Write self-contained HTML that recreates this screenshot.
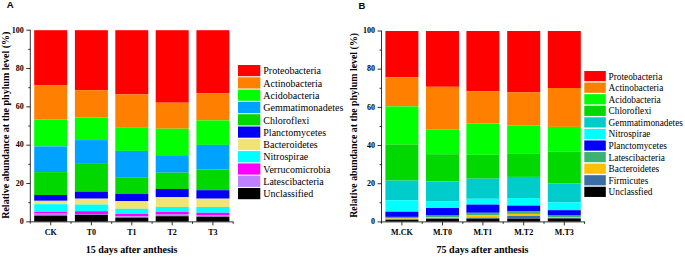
<!DOCTYPE html>
<html><head><meta charset="utf-8"><style>
html,body{margin:0;padding:0;background:#fff;}
svg{display:block;}
.tk{font-family:"Liberation Serif",serif;font-weight:700;font-size:8px;fill:#000;}
.tt{font-family:"Liberation Serif",serif;font-weight:700;font-size:10px;fill:#000;}
.yl{font-family:"Liberation Serif",serif;font-weight:700;font-size:10px;fill:#000;}
.lg{font-family:"Liberation Serif",serif;font-weight:400;font-size:10px;fill:#000;}
.pl{font-family:"Liberation Sans",sans-serif;font-weight:700;font-size:9.5px;fill:#000;}
</style></head><body>
<svg width="685" height="257" viewBox="0 0 685 257">
<rect width="685" height="257" fill="#fff"/>
<rect x="34.2" y="30.2" width="33" height="54.9" fill="#ff0000"/>
<rect x="34.2" y="85.1" width="33" height="34.3" fill="#ff8000"/>
<rect x="34.2" y="119.4" width="33" height="27" fill="#00ff00"/>
<rect x="34.2" y="146.4" width="33" height="25.7" fill="#00a2ff"/>
<rect x="34.2" y="172.1" width="33" height="22.9" fill="#00d800"/>
<rect x="34.2" y="195" width="33" height="5.8" fill="#0000f2"/>
<rect x="34.2" y="200.8" width="33" height="3.4" fill="#f0e474"/>
<rect x="34.2" y="204.2" width="33" height="7.8" fill="#00ffff"/>
<rect x="34.2" y="212" width="33" height="1.6" fill="#ff00ff"/>
<rect x="34.2" y="213.6" width="33" height="2" fill="#bf80ff"/>
<rect x="34.2" y="215.6" width="33" height="5.9" fill="#000000"/>
<rect x="74.9" y="30.2" width="33" height="59.95" fill="#ff0000"/>
<rect x="74.9" y="90.15" width="33" height="27.45" fill="#ff8000"/>
<rect x="74.9" y="117.6" width="33" height="22.5" fill="#00ff00"/>
<rect x="74.9" y="140.1" width="33" height="23" fill="#00a2ff"/>
<rect x="74.9" y="163.1" width="33" height="28.5" fill="#00d800"/>
<rect x="74.9" y="191.6" width="33" height="7.1" fill="#0000f2"/>
<rect x="74.9" y="198.7" width="33" height="5.9" fill="#f0e474"/>
<rect x="74.9" y="204.6" width="33" height="6.6" fill="#00ffff"/>
<rect x="74.9" y="211.2" width="33" height="2.8" fill="#ff00ff"/>
<rect x="74.9" y="214" width="33" height="0.8" fill="#bf80ff"/>
<rect x="74.9" y="214.8" width="33" height="6.7" fill="#000000"/>
<rect x="115.3" y="30.2" width="33" height="64.2" fill="#ff0000"/>
<rect x="115.3" y="94.4" width="33" height="32.8" fill="#ff8000"/>
<rect x="115.3" y="127.2" width="33" height="23.7" fill="#00ff00"/>
<rect x="115.3" y="150.9" width="33" height="26.3" fill="#00a2ff"/>
<rect x="115.3" y="177.2" width="33" height="16.5" fill="#00d800"/>
<rect x="115.3" y="193.7" width="33" height="7.4" fill="#0000f2"/>
<rect x="115.3" y="201.1" width="33" height="7.7" fill="#f0e474"/>
<rect x="115.3" y="208.8" width="33" height="5.1" fill="#00ffff"/>
<rect x="115.3" y="213.9" width="33" height="2.3" fill="#ff00ff"/>
<rect x="115.3" y="216.2" width="33" height="1.4" fill="#bf80ff"/>
<rect x="115.3" y="217.6" width="33" height="3.9" fill="#000000"/>
<rect x="155.7" y="30.2" width="33" height="72.5" fill="#ff0000"/>
<rect x="155.7" y="102.7" width="33" height="26" fill="#ff8000"/>
<rect x="155.7" y="128.7" width="33" height="26.5" fill="#00ff00"/>
<rect x="155.7" y="155.2" width="33" height="17.5" fill="#00a2ff"/>
<rect x="155.7" y="172.7" width="33" height="16.3" fill="#00d800"/>
<rect x="155.7" y="189" width="33" height="8.2" fill="#0000f2"/>
<rect x="155.7" y="197.2" width="33" height="9.8" fill="#f0e474"/>
<rect x="155.7" y="207" width="33" height="5" fill="#00ffff"/>
<rect x="155.7" y="212" width="33" height="2" fill="#ff00ff"/>
<rect x="155.7" y="214" width="33" height="2.2" fill="#bf80ff"/>
<rect x="155.7" y="216.2" width="33" height="5.3" fill="#000000"/>
<rect x="196.4" y="30.2" width="33" height="63.2" fill="#ff0000"/>
<rect x="196.4" y="93.4" width="33" height="27" fill="#ff8000"/>
<rect x="196.4" y="120.4" width="33" height="24.5" fill="#00ff00"/>
<rect x="196.4" y="144.9" width="33" height="24.5" fill="#00a2ff"/>
<rect x="196.4" y="169.4" width="33" height="20.8" fill="#00d800"/>
<rect x="196.4" y="190.2" width="33" height="8.5" fill="#0000f2"/>
<rect x="196.4" y="198.7" width="33" height="8.3" fill="#f0e474"/>
<rect x="196.4" y="207" width="33" height="5.8" fill="#00ffff"/>
<rect x="196.4" y="212.8" width="33" height="2.3" fill="#ff00ff"/>
<rect x="196.4" y="215.1" width="33" height="1.6" fill="#bf80ff"/>
<rect x="196.4" y="216.7" width="33" height="4.8" fill="#000000"/>
<rect x="385.4" y="31" width="33" height="46.3" fill="#ff0000"/>
<rect x="385.4" y="77.3" width="33" height="29.1" fill="#ff8000"/>
<rect x="385.4" y="106.4" width="33" height="38" fill="#00ff00"/>
<rect x="385.4" y="144.4" width="33" height="36.2" fill="#00d800"/>
<rect x="385.4" y="180.6" width="33" height="19.6" fill="#00cccc"/>
<rect x="385.4" y="200.2" width="33" height="11.5" fill="#00ffff"/>
<rect x="385.4" y="211.7" width="33" height="5.2" fill="#0000ff"/>
<rect x="385.4" y="216.9" width="33" height="1.6" fill="#3cb371"/>
<rect x="385.4" y="218.5" width="33" height="0.8" fill="#ffc000"/>
<rect x="385.4" y="219.3" width="33" height="0.7" fill="#3a6ea5"/>
<rect x="385.4" y="220" width="33" height="1.5" fill="#000000"/>
<rect x="426" y="31" width="33" height="55.8" fill="#ff0000"/>
<rect x="426" y="86.8" width="33" height="42.5" fill="#ff8000"/>
<rect x="426" y="129.3" width="33" height="24.9" fill="#00ff00"/>
<rect x="426" y="154.2" width="33" height="27.3" fill="#00d800"/>
<rect x="426" y="181.5" width="33" height="20.1" fill="#00cccc"/>
<rect x="426" y="201.6" width="33" height="6.4" fill="#00ffff"/>
<rect x="426" y="208" width="33" height="7.6" fill="#0000ff"/>
<rect x="426" y="215.6" width="33" height="1.7" fill="#3cb371"/>
<rect x="426" y="217.3" width="33" height="1" fill="#ffc000"/>
<rect x="426" y="218.3" width="33" height="0.5" fill="#3a6ea5"/>
<rect x="426" y="218.8" width="33" height="2.7" fill="#000000"/>
<rect x="466.4" y="31" width="33" height="60.2" fill="#ff0000"/>
<rect x="466.4" y="91.2" width="33" height="32.3" fill="#ff8000"/>
<rect x="466.4" y="123.5" width="33" height="31.3" fill="#00ff00"/>
<rect x="466.4" y="154.8" width="33" height="23.9" fill="#00d800"/>
<rect x="466.4" y="178.7" width="33" height="20.1" fill="#00cccc"/>
<rect x="466.4" y="198.8" width="33" height="5.8" fill="#00ffff"/>
<rect x="466.4" y="204.6" width="33" height="8.2" fill="#0000ff"/>
<rect x="466.4" y="212.8" width="33" height="2.4" fill="#3cb371"/>
<rect x="466.4" y="215.2" width="33" height="2.6" fill="#ffc000"/>
<rect x="466.4" y="217.8" width="33" height="0.9" fill="#3a6ea5"/>
<rect x="466.4" y="218.7" width="33" height="2.8" fill="#000000"/>
<rect x="507.2" y="31" width="33" height="61.4" fill="#ff0000"/>
<rect x="507.2" y="92.4" width="33" height="33.3" fill="#ff8000"/>
<rect x="507.2" y="125.7" width="33" height="28.2" fill="#00ff00"/>
<rect x="507.2" y="153.9" width="33" height="23" fill="#00d800"/>
<rect x="507.2" y="176.9" width="33" height="21.1" fill="#00cccc"/>
<rect x="507.2" y="198" width="33" height="7.6" fill="#00ffff"/>
<rect x="507.2" y="205.6" width="33" height="5.4" fill="#0000ff"/>
<rect x="507.2" y="211" width="33" height="2.9" fill="#3cb371"/>
<rect x="507.2" y="213.9" width="33" height="2.1" fill="#ffc000"/>
<rect x="507.2" y="216" width="33" height="2.7" fill="#3a6ea5"/>
<rect x="507.2" y="218.7" width="33" height="2.8" fill="#000000"/>
<rect x="547.8" y="31" width="33" height="57" fill="#ff0000"/>
<rect x="547.8" y="88" width="33" height="38.9" fill="#ff8000"/>
<rect x="547.8" y="126.9" width="33" height="24.7" fill="#00ff00"/>
<rect x="547.8" y="151.6" width="33" height="31.7" fill="#00d800"/>
<rect x="547.8" y="183.3" width="33" height="19.2" fill="#00cccc"/>
<rect x="547.8" y="202.5" width="33" height="7.7" fill="#00ffff"/>
<rect x="547.8" y="210.2" width="33" height="5.4" fill="#0000ff"/>
<rect x="547.8" y="215.6" width="33" height="1.4" fill="#3cb371"/>
<rect x="547.8" y="217" width="33" height="1" fill="#ffc000"/>
<rect x="547.8" y="218" width="33" height="0.5" fill="#3a6ea5"/>
<rect x="547.8" y="218.5" width="33" height="3" fill="#000000"/>
<line x1="30.3" y1="29.8" x2="30.3" y2="223.65" stroke="#000" stroke-width="0.8"/>
<line x1="30.3" y1="221.85" x2="233.5" y2="221.85" stroke="#000" stroke-width="0.8"/>
<line x1="26.3" y1="221.85" x2="30.3" y2="221.85" stroke="#000" stroke-width="0.8"/>
<text x="23.8" y="224.15" class="tk" text-anchor="end">0</text>
<line x1="28.3" y1="202.69" x2="30.3" y2="202.69" stroke="#000" stroke-width="0.8"/>
<line x1="26.3" y1="183.52" x2="30.3" y2="183.52" stroke="#000" stroke-width="0.8"/>
<text x="23.8" y="185.82" class="tk" text-anchor="end">20</text>
<line x1="28.3" y1="164.35" x2="30.3" y2="164.35" stroke="#000" stroke-width="0.8"/>
<line x1="26.3" y1="145.19" x2="30.3" y2="145.19" stroke="#000" stroke-width="0.8"/>
<text x="23.8" y="147.49" class="tk" text-anchor="end">40</text>
<line x1="28.3" y1="126.02" x2="30.3" y2="126.02" stroke="#000" stroke-width="0.8"/>
<line x1="26.3" y1="106.86" x2="30.3" y2="106.86" stroke="#000" stroke-width="0.8"/>
<text x="23.8" y="109.16" class="tk" text-anchor="end">60</text>
<line x1="28.3" y1="87.69" x2="30.3" y2="87.69" stroke="#000" stroke-width="0.8"/>
<line x1="26.3" y1="68.53" x2="30.3" y2="68.53" stroke="#000" stroke-width="0.8"/>
<text x="23.8" y="70.83" class="tk" text-anchor="end">80</text>
<line x1="28.3" y1="49.36" x2="30.3" y2="49.36" stroke="#000" stroke-width="0.8"/>
<line x1="26.3" y1="30.2" x2="30.3" y2="30.2" stroke="#000" stroke-width="0.8"/>
<text x="23.8" y="32.5" class="tk" text-anchor="end">100</text>
<line x1="50.7" y1="221.85" x2="50.7" y2="225.35" stroke="#000" stroke-width="0.8"/>
<text x="50.7" y="234.5" class="tk" text-anchor="middle">CK</text>
<line x1="71" y1="221.85" x2="71" y2="223.85" stroke="#000" stroke-width="0.8"/>
<line x1="91.4" y1="221.85" x2="91.4" y2="225.35" stroke="#000" stroke-width="0.8"/>
<text x="91.4" y="234.5" class="tk" text-anchor="middle">T0</text>
<line x1="111.7" y1="221.85" x2="111.7" y2="223.85" stroke="#000" stroke-width="0.8"/>
<line x1="131.8" y1="221.85" x2="131.8" y2="225.35" stroke="#000" stroke-width="0.8"/>
<text x="131.8" y="234.5" class="tk" text-anchor="middle">T1</text>
<line x1="152.1" y1="221.85" x2="152.1" y2="223.85" stroke="#000" stroke-width="0.8"/>
<line x1="172.2" y1="221.85" x2="172.2" y2="225.35" stroke="#000" stroke-width="0.8"/>
<text x="172.2" y="234.5" class="tk" text-anchor="middle">T2</text>
<line x1="192.5" y1="221.85" x2="192.5" y2="223.85" stroke="#000" stroke-width="0.8"/>
<line x1="212.9" y1="221.85" x2="212.9" y2="225.35" stroke="#000" stroke-width="0.8"/>
<text x="212.9" y="234.5" class="tk" text-anchor="middle">T3</text>
<line x1="233.2" y1="221.85" x2="233.2" y2="223.85" stroke="#000" stroke-width="0.8"/>
<text x="131.6" y="253.2" class="tt" text-anchor="middle">15 days after anthesis</text>
<text transform="translate(8.8,125.2) rotate(-90)" class="yl" text-anchor="middle" style="font-size:10px">Relative abundance at the phylum level (%)</text>
<line x1="381.5" y1="30.6" x2="381.5" y2="223.7" stroke="#000" stroke-width="0.8"/>
<line x1="381.5" y1="221.9" x2="585" y2="221.9" stroke="#000" stroke-width="0.8"/>
<line x1="377.5" y1="221.9" x2="381.5" y2="221.9" stroke="#000" stroke-width="0.8"/>
<text x="375" y="224.2" class="tk" text-anchor="end">0</text>
<line x1="379.5" y1="202.81" x2="381.5" y2="202.81" stroke="#000" stroke-width="0.8"/>
<line x1="377.5" y1="183.72" x2="381.5" y2="183.72" stroke="#000" stroke-width="0.8"/>
<text x="375" y="186.02" class="tk" text-anchor="end">20</text>
<line x1="379.5" y1="164.63" x2="381.5" y2="164.63" stroke="#000" stroke-width="0.8"/>
<line x1="377.5" y1="145.54" x2="381.5" y2="145.54" stroke="#000" stroke-width="0.8"/>
<text x="375" y="147.84" class="tk" text-anchor="end">40</text>
<line x1="379.5" y1="126.45" x2="381.5" y2="126.45" stroke="#000" stroke-width="0.8"/>
<line x1="377.5" y1="107.36" x2="381.5" y2="107.36" stroke="#000" stroke-width="0.8"/>
<text x="375" y="109.66" class="tk" text-anchor="end">60</text>
<line x1="379.5" y1="88.27" x2="381.5" y2="88.27" stroke="#000" stroke-width="0.8"/>
<line x1="377.5" y1="69.18" x2="381.5" y2="69.18" stroke="#000" stroke-width="0.8"/>
<text x="375" y="71.48" class="tk" text-anchor="end">80</text>
<line x1="379.5" y1="50.09" x2="381.5" y2="50.09" stroke="#000" stroke-width="0.8"/>
<line x1="377.5" y1="31" x2="381.5" y2="31" stroke="#000" stroke-width="0.8"/>
<text x="375" y="33.3" class="tk" text-anchor="end">100</text>
<line x1="401.9" y1="221.9" x2="401.9" y2="225.4" stroke="#000" stroke-width="0.8"/>
<text x="401.9" y="234.7" class="tk" text-anchor="middle">M.CK</text>
<line x1="422.2" y1="221.9" x2="422.2" y2="223.9" stroke="#000" stroke-width="0.8"/>
<line x1="442.5" y1="221.9" x2="442.5" y2="225.4" stroke="#000" stroke-width="0.8"/>
<text x="442.5" y="234.7" class="tk" text-anchor="middle">M.T0</text>
<line x1="462.8" y1="221.9" x2="462.8" y2="223.9" stroke="#000" stroke-width="0.8"/>
<line x1="482.9" y1="221.9" x2="482.9" y2="225.4" stroke="#000" stroke-width="0.8"/>
<text x="482.9" y="234.7" class="tk" text-anchor="middle">M.T1</text>
<line x1="503.2" y1="221.9" x2="503.2" y2="223.9" stroke="#000" stroke-width="0.8"/>
<line x1="523.7" y1="221.9" x2="523.7" y2="225.4" stroke="#000" stroke-width="0.8"/>
<text x="523.7" y="234.7" class="tk" text-anchor="middle">M.T2</text>
<line x1="544" y1="221.9" x2="544" y2="223.9" stroke="#000" stroke-width="0.8"/>
<line x1="564.3" y1="221.9" x2="564.3" y2="225.4" stroke="#000" stroke-width="0.8"/>
<text x="564.3" y="234.7" class="tk" text-anchor="middle">M.T3</text>
<line x1="584.6" y1="221.9" x2="584.6" y2="223.9" stroke="#000" stroke-width="0.8"/>
<text x="482.5" y="253.2" class="tt" text-anchor="middle">75 days after anthesis</text>
<text transform="translate(357.3,125.4) rotate(-90)" class="yl" text-anchor="middle" style="font-size:9.9px">Relative abundance at the phylum level (%)</text>
<rect x="238" y="65" width="22.3" height="11.2" fill="#ff0000"/>
<text x="263.3" y="74.3" class="lg" style="font-size:10px">Proteobacteria</text>
<rect x="238" y="77.3" width="22.3" height="11.2" fill="#ff8000"/>
<text x="263.3" y="86.6" class="lg" style="font-size:10px">Actinobacteria</text>
<rect x="238" y="89.6" width="22.3" height="11.2" fill="#00ff00"/>
<text x="263.3" y="98.9" class="lg" style="font-size:10px">Acidobacteria</text>
<rect x="238" y="101.9" width="22.3" height="11.2" fill="#00a2ff"/>
<text x="263.3" y="111.2" class="lg" style="font-size:10px">Gemmatimonadetes</text>
<rect x="238" y="114.2" width="22.3" height="11.2" fill="#00d800"/>
<text x="263.3" y="123.5" class="lg" style="font-size:10px">Chloroflexi</text>
<rect x="238" y="126.5" width="22.3" height="11.2" fill="#0000f2"/>
<text x="263.3" y="135.8" class="lg" style="font-size:10px">Planctomycetes</text>
<rect x="238" y="138.8" width="22.3" height="11.2" fill="#f0e474"/>
<text x="263.3" y="148.1" class="lg" style="font-size:10px">Bacteroidetes</text>
<rect x="238" y="151.1" width="22.3" height="11.2" fill="#00ffff"/>
<text x="263.3" y="160.4" class="lg" style="font-size:10px">Nitrospirae</text>
<rect x="238" y="163.4" width="22.3" height="11.2" fill="#ff00ff"/>
<text x="263.3" y="172.7" class="lg" style="font-size:10px">Verrucomicrobia</text>
<rect x="238" y="175.7" width="22.3" height="11.2" fill="#bf80ff"/>
<text x="263.3" y="185" class="lg" style="font-size:10px">Latescibacteria</text>
<rect x="238" y="188" width="22.3" height="11.2" fill="#000000"/>
<text x="263.3" y="197.3" class="lg" style="font-size:10px">Unclassified</text>
<rect x="584.3" y="71" width="21.5" height="10.2" fill="#ff0000"/>
<text x="608.6" y="79.5" class="lg" style="font-size:9.3px">Proteobacteria</text>
<rect x="584.3" y="82.58" width="21.5" height="10.2" fill="#ff8000"/>
<text x="608.6" y="91.08" class="lg" style="font-size:9.3px">Actinobacteria</text>
<rect x="584.3" y="94.15" width="21.5" height="10.2" fill="#00ff00"/>
<text x="608.6" y="102.65" class="lg" style="font-size:9.3px">Acidobacteria</text>
<rect x="584.3" y="105.72" width="21.5" height="10.2" fill="#00d800"/>
<text x="608.6" y="114.22" class="lg" style="font-size:9.3px">Chloroflexi</text>
<rect x="584.3" y="117.3" width="21.5" height="10.2" fill="#00cccc"/>
<text x="608.6" y="125.8" class="lg" style="font-size:9.3px">Gemmatimonadetes</text>
<rect x="584.3" y="128.88" width="21.5" height="10.2" fill="#00ffff"/>
<text x="608.6" y="137.38" class="lg" style="font-size:9.3px">Nitrospirae</text>
<rect x="584.3" y="140.45" width="21.5" height="10.2" fill="#0000ff"/>
<text x="608.6" y="148.95" class="lg" style="font-size:9.3px">Planctomycetes</text>
<rect x="584.3" y="152.02" width="21.5" height="10.2" fill="#3cb371"/>
<text x="608.6" y="160.52" class="lg" style="font-size:9.3px">Latescibacteria</text>
<rect x="584.3" y="163.6" width="21.5" height="10.2" fill="#ffc000"/>
<text x="608.6" y="172.1" class="lg" style="font-size:9.3px">Bacteroidetes</text>
<rect x="584.3" y="175.18" width="21.5" height="10.2" fill="#3a6ea5"/>
<text x="608.6" y="183.68" class="lg" style="font-size:9.3px">Firmicutes</text>
<rect x="584.3" y="186.75" width="21.5" height="10.2" fill="#000000"/>
<text x="608.6" y="195.25" class="lg" style="font-size:9.3px">Unclassfied</text>
<text x="6.8" y="8.2" class="pl">A</text>
<text x="358.5" y="8.6" class="pl">B</text>
</svg>
</body></html>
